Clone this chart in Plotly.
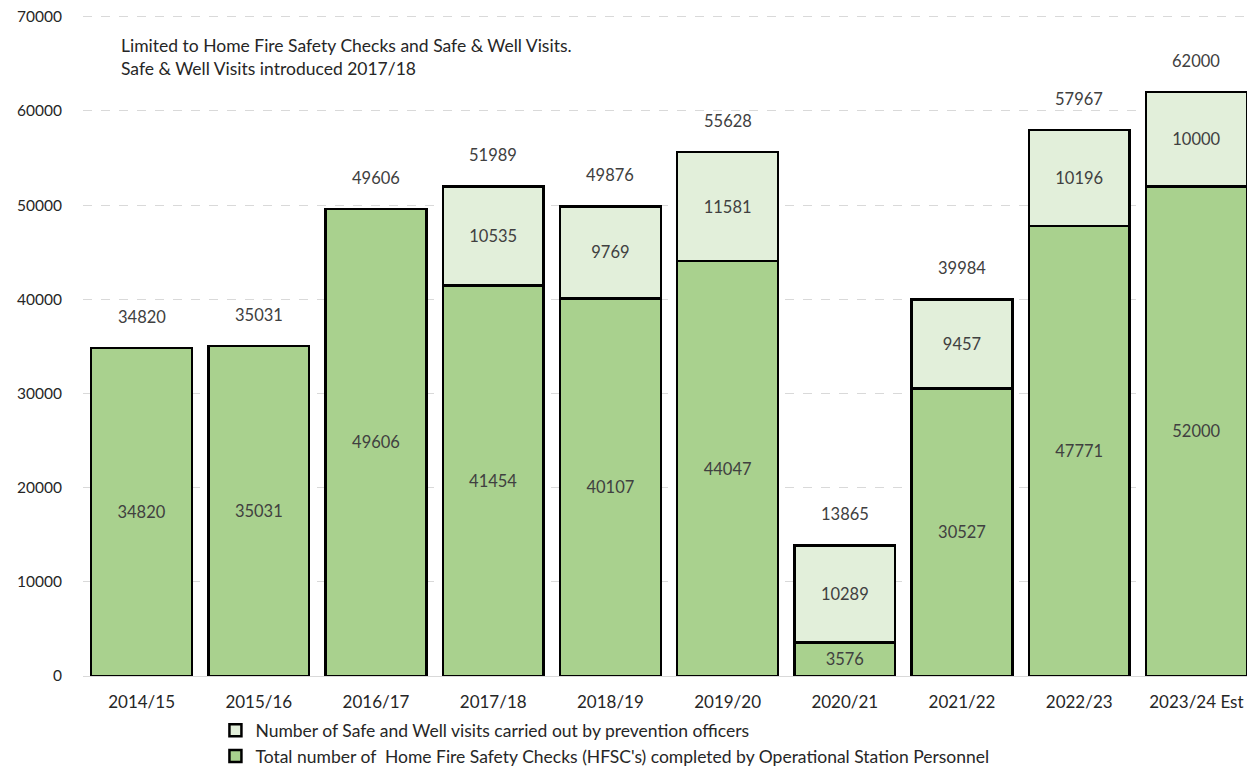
import plotly.graph_objects as go

years = ["2014/15", "2015/16", "2016/17", "2017/18", "2018/19", "2019/20",
         "2020/21", "2021/22", "2022/23", "2023/24 Est"]
hfsc = [34820, 35031, 49606, 41454, 40107, 44047, 3576, 30527, 47771, 52000]
safe_well = [None, None, None, 10535, 9769, 11581, 10289, 9457, 10196, 10000]
totals = [34820, 35031, 49606, 51989, 49876, 55628, 13865, 39984, 57967, 62000]

FONT = "Lato, 'Open Sans', sans-serif"
TXT = "#404040"

fig = go.Figure()
fig.add_trace(go.Bar(
    x=years, y=hfsc,
    name="Total number of  Home Fire Safety Checks (HFSC's) completed by Operational Station Personnel",
    marker=dict(color="#A9D18E", line=dict(color="#000000", width=2.5)),
    text=[str(v) for v in hfsc], textposition="inside", insidetextanchor="middle",
    textfont=dict(color=TXT, size=16.5, family=FONT),
))
fig.add_trace(go.Bar(
    x=years, y=safe_well,
    name="Number of Safe and Well visits carried out by prevention officers",
    marker=dict(color="#E2EFDA", line=dict(color="#000000", width=2.5)),
    text=[str(v) if v else "" for v in safe_well], textposition="inside", insidetextanchor="middle",
    textfont=dict(color=TXT, size=16.5, family=FONT),
))

for yr, t in zip(years, totals):
    fig.add_annotation(x=yr, y=t, text=str(t), showarrow=False, yshift=31,
                       font=dict(color=TXT, size=16.5, family=FONT))

fig.add_annotation(xref="paper", yref="paper", x=0.031, y=0.97, xanchor="left", yanchor="top",
                   align="left", showarrow=False,
                   text="Limited to Home Fire Safety Checks and Safe & Well Visits.<br>Safe & Well Visits introduced 2017/18",
                   font=dict(color="#262626", size=17.5, family=FONT))

fig.update_layout(
    width=1247, height=767,
    margin=dict(l=75, r=0, t=5, b=99),
    barmode="stack", bargap=0.14,
    plot_bgcolor="white", paper_bgcolor="white",
    font=dict(family=FONT, color=TXT, size=15),
    showlegend=True,
    legend=dict(orientation="v", traceorder="reversed", x=0.113, y=-0.055, xanchor="left", yanchor="top",
                font=dict(size=17.5, color="#262626", family=FONT), tracegroupgap=0,
                itemwidth=30, bgcolor="rgba(0,0,0,0)"),
    xaxis=dict(showline=True, linecolor="#D9D9D9", linewidth=1, ticks="",
               tickfont=dict(size=17, color="#262626"), ticklabelstandoff=11),
    yaxis=dict(range=[0, 70400], dtick=10000, showgrid=True, gridcolor="#D9D9D9",
               griddash="dash", gridwidth=1, zeroline=False, ticks="",
               tickfont=dict(size=15.5, color="#262626"), ticklabelstandoff=20,
               ticklabeloverflow="allow", tickformat="d"),
)

fig.write_html("out.html")
